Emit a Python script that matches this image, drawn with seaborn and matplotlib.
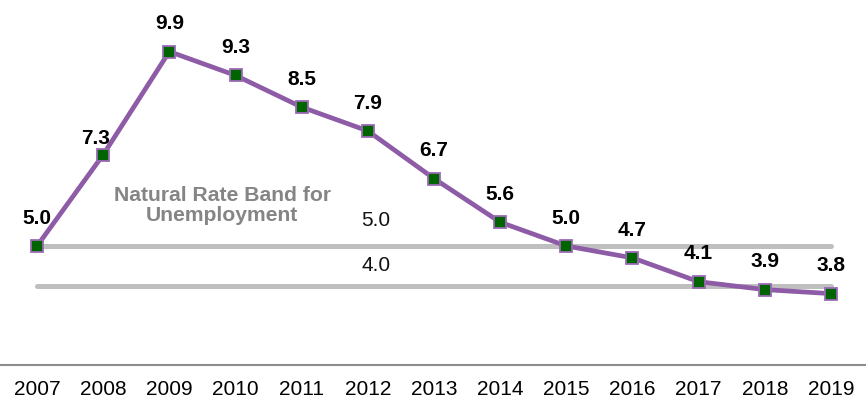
import matplotlib
matplotlib.use("Agg")
import matplotlib.pyplot as plt
import seaborn as sns
import pandas as pd

years = [2007, 2008, 2009, 2010, 2011, 2012, 2013, 2014, 2015, 2016, 2017, 2018, 2019]
unemployment = [5.0, 7.3, 9.9, 9.3, 8.5, 7.9, 6.7, 5.6, 5.0, 4.7, 4.1, 3.9, 3.8]
band_upper = 5.0
band_lower = 4.0
band_title = "Natural Rate Band for\nUnemployment"

sns.set_theme(style="white")
plt.rcParams["font.family"] = ["Liberation Sans", "DejaVu Sans"]

df = pd.DataFrame({"year": years, "rate": unemployment})

fig = plt.figure(figsize=(8.66, 4.0), dpi=100)
ax = fig.add_axes([0.0, 0.0875, 1.0, 0.9125])

# natural-rate band boundaries
for level in (band_upper, band_lower):
    ax.plot([years[0], years[-1]], [level, level], color="#BFBFBF",
            lw=3.6, solid_capstyle="round", zorder=1)
ax.text(2012.12, band_upper + 0.5, f"{band_upper:.1f}", ha="center", va="baseline",
        fontsize=15, color="#111111")
ax.text(2012.12, band_lower + 0.37, f"{band_lower:.1f}", ha="center", va="baseline",
        fontsize=15, color="#111111")
ax.text(2009.8, 6.02, band_title, ha="center", va="center", fontsize=15.2,
        fontweight="bold", color="#858585", linespacing=1.08)

sns.lineplot(data=df, x="year", y="rate", ax=ax, color="#8E5BA6", lw=3.4,
             marker="s", markersize=9, markerfacecolor="#006400",
             markeredgecolor="#9A6AB5", markeredgewidth=1.3, zorder=3)

# value labels sit above each point; the steep 2008 one is tucked left of the line
label_shift = {2008: (-0.12, 0.26)}
for x, y in zip(years, unemployment):
    dx, dy = label_shift.get(x, (0.0, 0.56))
    ax.text(x + dx, y + dy, f"{y:.1f}", ha="center", va="baseline",
            fontsize=15, fontweight="bold", color="black", zorder=4)

ax.set_xlim(2006.44, 2019.53)
ax.set_ylim(2.0, 11.2)
ax.set_xticks(years)
ax.set_xticklabels([str(y) for y in years], fontsize=15, color="black")
ax.set_yticks([])
ax.set_xlabel("")
ax.set_ylabel("")
for side in ("top", "right", "left"):
    ax.spines[side].set_visible(False)
ax.spines["bottom"].set_color("#8C8C8C")
ax.spines["bottom"].set_linewidth(1.5)
ax.tick_params(axis="x", length=0, pad=11)

fig.savefig("out.png", dpi=100)
